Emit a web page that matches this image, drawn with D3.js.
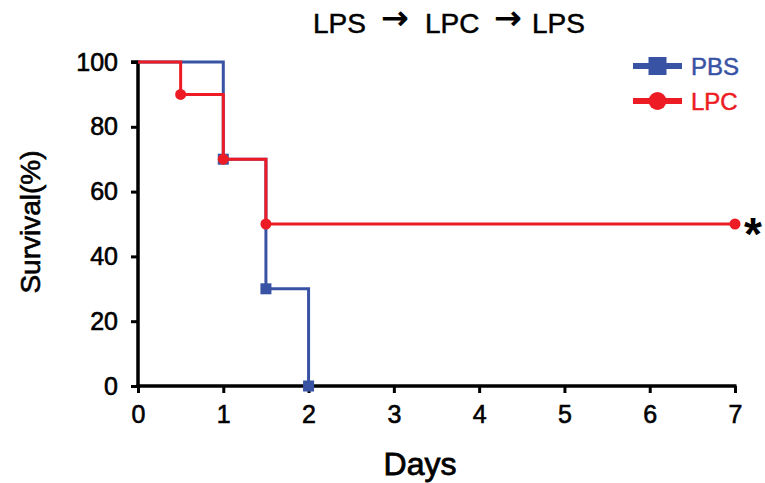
<!DOCTYPE html>
<html>
<head>
  <meta charset="UTF-8">
  <title>Survival LPS - LPC - LPS</title>
  <script src="https://d3js.org/d3.v7.min.js"></script>
  <style>
    body { margin: 0; padding: 0; background: #ffffff; }
    svg text { font-family: 'Liberation Sans', Arial, sans-serif; }
  </style>
</head>
<body>
  <svg id="chart" width="765" height="483"></svg>
  <script>
    // Kaplan-Meier style steps: [day, survival %]
    const pbsDays = [0, 1, 1.5, 2];
    const pbsSurv = [100, 70, 30, 0];
    const lpcDays = [0, 0.5, 1, 1.5, 7];
    const lpcSurv = [100, 90, 70, 50, 50];
    const xTicks = [0, 1, 2, 3, 4, 5, 6, 7];
    const yTicks = [0, 20, 40, 60, 80, 100];
    const titleParts = ["LPS", "\u2192", "LPC", "\u2192", "LPS"];

    const blue = "#3953a4";
    const red = "#ed1c24";

    const l = 138, t = 62;
    const width = 735 - l;
    const height = 386 - t;

    const svg = d3.select("#chart");
    const g = svg.append("g").attr("transform", `translate(${l},${t})`);

    const x = d3.scaleLinear().domain([0, 7]).range([0, width]);
    const y = d3.scaleLinear().domain([0, 100]).range([height, 0]);

    // axes
    const xAxis = g.append("g")
      .attr("transform", `translate(0,${height})`)
      .call(d3.axisBottom(x).tickValues(xTicks).tickSize(7).tickPadding(12).tickFormat(d3.format("d")));
    const yAxis = g.append("g")
      .call(d3.axisLeft(y).tickValues(yTicks).tickSize(7).tickPadding(13));

    [xAxis, yAxis].forEach(function(a) {
      a.select(".domain").attr("stroke", "#000").attr("stroke-width", 3.5);
      a.selectAll(".tick line").attr("stroke", "#000").attr("stroke-width", 3);
      a.selectAll(".tick text")
        .attr("fill", "#000")
        .attr("stroke", "#000")
        .attr("stroke-width", 0.6)
        .style("font-size", "25px")
        .style("font-family", "'Liberation Sans', Arial, sans-serif");
    });
    xAxis.select(".domain").attr("d", `M-1.5,0H${width + 1.5}`);
    yAxis.select(".domain").attr("d", `M-7,0H0V${height}`);

    function steps(days, surv) {
      return days.map(function(d, i) { return { day: d, surv: surv[i] }; });
    }
    const pbs = steps(pbsDays, pbsSurv);
    const lpc = steps(lpcDays, lpcSurv);

    const line = d3.line()
      .x(function(d) { return x(d.day); })
      .y(function(d) { return y(d.surv); })
      .curve(d3.curveStepAfter);

    g.append("path").datum(pbs)
      .attr("d", line).attr("fill", "none")
      .attr("stroke", blue).attr("stroke-width", 3);

    g.selectAll(".pbs-mark").data(pbs.slice(1)).enter().append("rect")
      .attr("x", function(d) { return x(d.day) - 5.5; })
      .attr("y", function(d) { return y(d.surv) - 5.5; })
      .attr("width", 11).attr("height", 11)
      .attr("fill", blue);

    g.append("path").datum(lpc)
      .attr("d", line).attr("fill", "none")
      .attr("stroke", red).attr("stroke-width", 3);

    g.selectAll(".lpc-mark").data(lpc.slice(1)).enter().append("circle")
      .attr("cx", function(d) { return x(d.day); })
      .attr("cy", function(d) { return y(d.surv); })
      .attr("r", 5.5)
      .attr("fill", red);

    // significance star
    svg.append("text")
      .attr("x", 753)
      .attr("y", 250)
      .attr("text-anchor", "middle")
      .style("font-size", "46px")
      .style("font-weight", "bold")
      .text("*");

    // axis titles
    svg.append("text")
      .attr("x", 420)
      .attr("y", 475)
      .attr("text-anchor", "middle")
      .attr("stroke", "#000")
      .attr("stroke-width", 0.8)
      .style("font-size", "32px")
      .text("Days");

    svg.append("text")
      .attr("transform", `translate(40,${t + height / 2 - 2}) rotate(-90)`)
      .attr("text-anchor", "middle")
      .attr("stroke", "#000")
      .attr("stroke-width", 0.6)
      .style("font-size", "28px")
      .text("Survival(%)");

    // header: words and arrows placed separately
    const titleX = [313, 395, 425, 508, 532];
    titleParts.forEach(function(s, i) {
      const isArrow = s === "\u2192";
      svg.append("text")
        .attr("x", titleX[i])
        .attr("y", isArrow ? 29 : 33)
        .attr("text-anchor", isArrow ? "middle" : "start")
        .attr("stroke", "#000")
        .attr("stroke-width", isArrow ? 1 : 0.5)
        .style("font-family", isArrow ? "'DejaVu Sans', sans-serif" : null)
        .style("font-size", isArrow ? "32px" : "28px")
        .text(s);
    });

    // legend
    const legend = [
      { name: "PBS", color: blue, shape: "square" },
      { name: "LPC", color: red, shape: "circle" }
    ];
    const lg = svg.append("g").attr("transform", "translate(633,66)");
    legend.forEach(function(d, i) {
      const row = lg.append("g").attr("transform", `translate(0,${i * 35})`);
      row.append("line")
        .attr("x1", 0).attr("x2", 49).attr("y1", 0).attr("y2", 0)
        .attr("stroke", d.color).attr("stroke-width", 6);
      if (d.shape === "square") {
        row.append("rect").attr("x", 15.5).attr("y", -9).attr("width", 18).attr("height", 18).attr("fill", d.color);
      } else {
        row.append("circle").attr("cx", 24.5).attr("cy", 0).attr("r", 9).attr("fill", d.color);
      }
      row.append("text")
        .attr("x", 58).attr("y", 9)
        .attr("fill", d.color)
        .attr("stroke", d.color)
        .attr("stroke-width", 0.5)
        .style("font-size", "24px")
        .text(d.name);
    });
  </script>
</body>
</html>
